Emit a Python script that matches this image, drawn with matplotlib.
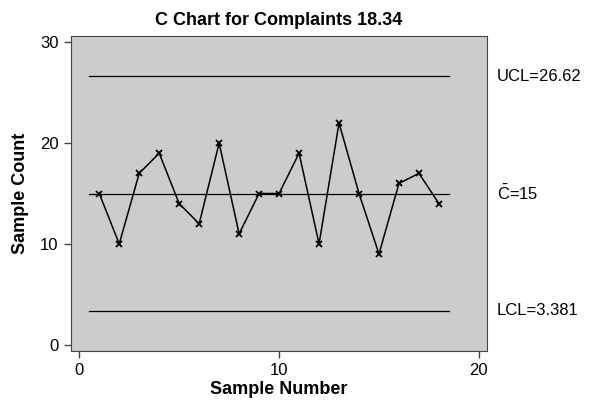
import matplotlib
matplotlib.use("Agg")
import matplotlib.pyplot as plt

plt.rcParams['font.family'] = ['Liberation Sans', 'DejaVu Sans']
plt.rcParams['mathtext.fontset'] = 'custom'
plt.rcParams['mathtext.rm'] = 'Liberation Sans'

samples = list(range(1, 19))
counts = [15, 10, 17, 19, 14, 12, 20, 11, 15, 15, 19, 10, 22, 15, 9, 16, 17, 14]
ucl = 26.62
cbar = 15
lcl = 3.381

fig = plt.figure(figsize=(5.9, 4.08), dpi=100)
ax = fig.add_axes([0.1203, 0.1404, 0.7046, 0.7714])
ax.set_facecolor('#cccccc')

x0, x1 = samples[0] - 0.5, samples[-1] + 0.5
for lvl in (ucl, cbar, lcl):
    ax.plot([x0, x1], [lvl, lvl], color='black', lw=0.9)

ax.plot(samples, counts, color='black', lw=1.1, marker='x', ms=4.5, mew=1.3)

ax.set_xlim(-0.415, 20.39)
ax.set_ylim(-0.6, 30.63)
ax.set_xticks([0, 10, 20])
ax.set_yticks([0, 10, 20, 30])
ax.tick_params(direction='out', length=5, width=1, labelsize=12, pad=4, color='#444444')
for s in ax.spines.values():
    s.set_color('#444444')

ax.set_title('C Chart for Complaints 18.34', fontsize=13, fontweight='bold', pad=8)
ax.set_xlabel('Sample Number', fontsize=13, fontweight='bold', labelpad=2)
ax.set_ylabel('Sample Count', fontsize=13, fontweight='bold', labelpad=8)

tx = 20.9
ax.text(tx, ucl, 'UCL=26.62', fontsize=12, va='center', ha='left', clip_on=False)
ax.text(tx, cbar, r'$\bar{\mathrm{C}}$=15', fontsize=12, va='center', ha='left', clip_on=False)
ax.text(tx, lcl, 'LCL=3.381', fontsize=12, va='center', ha='left', clip_on=False)

fig.savefig('out.png', dpi=100)
